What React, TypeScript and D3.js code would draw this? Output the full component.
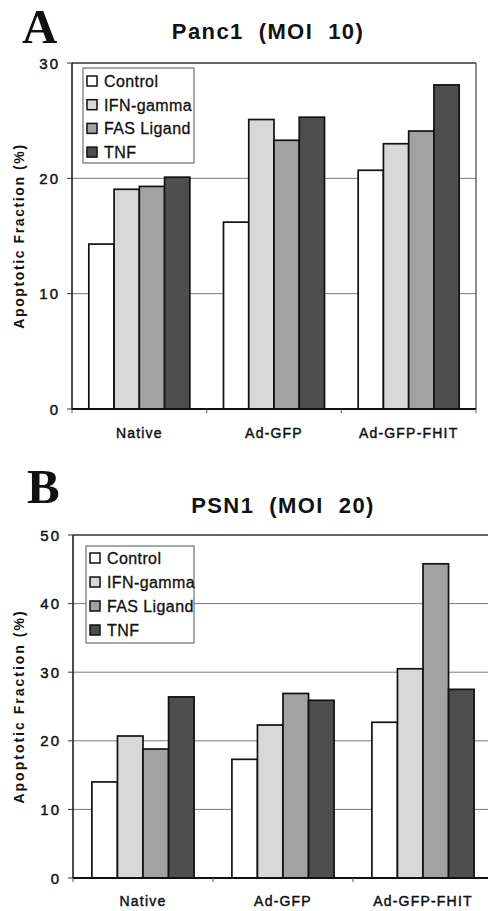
import React from "react";
import * as d3 from "d3";

const groups = ["Native", "Ad-GFP", "Ad-GFP-FHIT"];
const seriesNames = ["Control", "IFN-gamma", "FAS Ligand", "TNF"];
const seriesColors = ["#ffffff", "#d8d8d8", "#a2a2a2", "#4e4e4e"];

// Panel A: Panc1 (MOI 10)
const panc1Control = [14.3, 16.2, 20.7];
const panc1IFN = [19.05, 25.1, 23.0];
const panc1FAS = [19.3, 23.3, 24.1];
const panc1TNF = [20.1, 25.3, 28.1];
const panc1Ticks = [0, 10, 20, 30];

// Panel B: PSN1 (MOI 20)
const psn1Control = [14.0, 17.3, 22.7];
const psn1IFN = [20.7, 22.3, 30.5];
const psn1FAS = [18.8, 26.9, 45.8];
const psn1TNF = [26.4, 25.9, 27.5];
const psn1Ticks = [0, 10, 20, 30, 40, 50];

const FONT = "'Liberation Sans', Arial, sans-serif";

type PanelProps = {
  letter: string;
  letterX: number;
  letterY: number;
  title: string;
  titleX: number;
  titleY: number;
  series: number[][];
  ticks: number[];
  yMax: number;
  x0: number;
  x1: number;
  yZero: number;
  yTop: number;
  padInner: number;
  legend: { x: number; y: number; w: number; h: number; first: number; step: number };
  labelY: number;
  yLabelSpacing: number;
};

function Panel(p: PanelProps) {
  const xg = d3
    .scaleBand<string>()
    .domain(groups)
    .range([p.x0, p.x1])
    .paddingInner(p.padInner)
    .paddingOuter(p.padInner / 2);
  const xs = d3
    .scaleBand<string>()
    .domain(seriesNames)
    .range([0, xg.bandwidth()]);
  const y = d3.scaleLinear().domain([0, p.yMax]).range([p.yZero, p.yTop]);
  const step = xg.step();
  const boundaries = [0, 1, 2, 3].map((i) => p.x0 + i * step);

  return (
    <g>
      <text
        x={p.letterX}
        y={p.letterY}
        fontFamily="'Liberation Serif', 'Times New Roman', serif"
        fontWeight="bold"
        fontSize={49}
        fill="#111"
      >
        {p.letter}
      </text>
      <text
        x={p.titleX}
        y={p.titleY}
        textAnchor="middle"
        fontFamily={FONT}
        fontWeight="bold"
        fontSize={22}
        letterSpacing={1.4}
        fill="#111"
        style={{ whiteSpace: "pre" }}
      >
        {p.title}
      </text>
      {/* gridlines */}
      {p.ticks
        .filter((t) => t > 0 && t < p.yMax)
        .map((t) => (
          <line
            key={"g" + t}
            x1={p.x0}
            x2={p.x1}
            y1={y(t)}
            y2={y(t)}
            stroke="#7a7a7a"
            strokeWidth={1}
          />
        ))}
      {/* plot border top/right */}
      <line x1={p.x0} x2={p.x1} y1={y(p.yMax)} y2={y(p.yMax)} stroke="#333" strokeWidth={1.3} />
      <line x1={p.x1} x2={p.x1} y1={y(p.yMax)} y2={p.yZero} stroke="#444" strokeWidth={1.2} />
      {/* bars */}
      {groups.map((g, gi) =>
        seriesNames.map((s, si) => {
          const v = p.series[si][gi];
          const bx = (xg(g) as number) + (xs(s) as number);
          return (
            <rect
              key={g + s}
              x={bx}
              y={y(v)}
              width={xs.bandwidth()}
              height={p.yZero - y(v)}
              fill={seriesColors[si]}
              stroke="#111"
              strokeWidth={1.7}
            />
          );
        })
      )}
      {/* y axis */}
      <line x1={p.x0} x2={p.x0} y1={y(p.yMax)} y2={p.yZero} stroke="#111" strokeWidth={1.5} />
      {p.ticks.map((t) => (
        <g key={"t" + t}>
          <line x1={p.x0 - 5} x2={p.x0} y1={y(t)} y2={y(t)} stroke="#333" strokeWidth={1} />
          <text
            x={p.x0 - 12}
            y={y(t) + 5.5}
            textAnchor="end"
            fontFamily={FONT}
            fontSize={15}
            letterSpacing={2}
            fill="#111"
            stroke="#111"
            strokeWidth={0.45}
          >
            {t}
          </text>
        </g>
      ))}
      {/* x axis */}
      <line x1={p.x0} x2={p.x1} y1={p.yZero} y2={p.yZero} stroke="#111" strokeWidth={1.8} />
      {boundaries.map((bx, i) => (
        <line key={"b" + i} x1={bx} x2={bx} y1={p.yZero} y2={p.yZero + 4} stroke="#555" strokeWidth={1} />
      ))}
      {groups.map((g) => (
        <text
          key={"l" + g}
          x={(xg(g) as number) + xg.bandwidth() / 2}
          y={p.labelY}
          textAnchor="middle"
          fontFamily={FONT}
          fontSize={14}
          letterSpacing={1.2}
          fill="#111"
          stroke="#111"
          strokeWidth={0.45}
        >
          {g}
        </text>
      ))}
      {/* y label */}
      <text
        transform={`translate(${24},${(p.yZero + y(p.yMax)) / 2}) rotate(-90)`}
        textAnchor="middle"
        fontFamily={FONT}
        fontWeight="bold"
        fontSize={14}
        letterSpacing={p.yLabelSpacing}
        fill="#111"
      >
        Apoptotic Fraction (%)
      </text>
      {/* legend */}
      <rect
        x={p.legend.x}
        y={p.legend.y}
        width={p.legend.w}
        height={p.legend.h}
        fill="#fff"
        stroke="#555"
        strokeWidth={1}
      />
      {seriesNames.map((s, si) => {
        const cy = p.legend.first + si * p.legend.step;
        return (
          <g key={"lg" + s}>
            <rect
              x={p.legend.x + 4}
              y={cy - 5}
              width={10}
              height={10}
              fill={seriesColors[si]}
              stroke="#111"
              strokeWidth={1.5}
            />
            <text
              x={p.legend.x + 21}
              y={cy + 6}
              fontFamily={FONT}
              fontSize={16}
              letterSpacing={0.4}
              fill="#111"
              stroke="#111"
              strokeWidth={0.3}
            >
              {s}
            </text>
          </g>
        );
      })}
    </g>
  );
}

export default function App() {
  return (
    <svg
      width={488}
      height={911}
      style={{ position: "absolute", left: 0, top: 0, background: "#fff" }}
    >
      <rect x={0} y={0} width={488} height={911} fill="#fff" />
      <Panel
        letter="A"
        letterX={22}
        letterY={43}
        title="Panc1  (MOI  10)"
        titleX={268}
        titleY={39}
        series={[panc1Control, panc1IFN, panc1FAS, panc1TNF]}
        ticks={panc1Ticks}
        yMax={30}
        x0={72}
        x1={476}
        yZero={409}
        yTop={63}
        padInner={0.25}
        legend={{ x: 83, y: 68, w: 111, h: 95, first: 81, step: 23.7 }}
        labelY={438}
        yLabelSpacing={1.6}
      />
      <Panel
        letter="B"
        letterX={27}
        letterY={503}
        title="PSN1  (MOI  20)"
        titleX={283}
        titleY={513}
        series={[psn1Control, psn1IFN, psn1FAS, psn1TNF]}
        ticks={psn1Ticks}
        yMax={50}
        x0={73}
        x1={493}
        yZero={878}
        yTop={535}
        padInner={0.27}
        legend={{ x: 86, y: 546, w: 108, h: 97, first: 558, step: 24 }}
        labelY={906}
        yLabelSpacing={2}
      />
    </svg>
  );
}
